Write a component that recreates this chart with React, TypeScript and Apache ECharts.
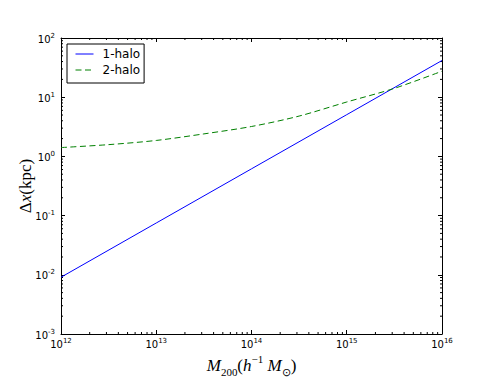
import React, { useEffect, useRef } from "react";
import * as echarts from "echarts";

// ---- data ----
const seriesNames = ["1-halo", "2-halo"];
const oneHaloMass = [1e12, 1e13, 1e14, 1e15, 1e16];
const oneHaloDx = [0.0091, 0.075, 0.617, 5.07, 41.7];
const twoHaloMass = [1e12, 3.16e12, 1e13, 3.16e13, 1e14, 3.16e14, 1e15, 3.16e15, 1e16];
const twoHaloDx = [1.41, 1.58, 1.86, 2.4, 3.2, 4.8, 8.3, 14.1, 27.5];
const xRange = [1e12, 1e16];
const yRange = [1e-3, 1e2];
const xDecades = [12, 13, 14, 15];
const yDecades = [-3, -2, -1, 0, 1];
const minorMultipliers = [2, 3, 4, 5, 6, 7, 8, 9];

const SANS = "DejaVu Sans";
const SERIF = "Liberation Serif";

function buildMinorTicks() {
  const items: number[][] = [];
  for (const d of xDecades) {
    for (const m of minorMultipliers) {
      const v = m * Math.pow(10, d);
      items.push([v, yRange[0], 0]);
      items.push([v, yRange[1], 1]);
    }
  }
  for (const d of yDecades) {
    for (const m of minorMultipliers) {
      const v = m * Math.pow(10, d);
      items.push([xRange[0], v, 2]);
      items.push([xRange[1], v, 3]);
    }
  }
  return items;
}

const tickRich = {
  b: { fontFamily: SANS, fontSize: 10, lineHeight: 12, verticalAlign: "bottom", color: "#000" },
  s: { fontFamily: SANS, fontSize: 7, lineHeight: 8, verticalAlign: "top", color: "#000" },
};

const nameRich = {
  i: { fontFamily: SERIF, fontStyle: "italic", fontSize: 17, lineHeight: 24, verticalAlign: "middle", color: "#000" },
  n: { fontFamily: SERIF, fontSize: 17, lineHeight: 24, verticalAlign: "middle", color: "#000" },
  sub: { fontFamily: SERIF, fontSize: 11, lineHeight: 12, verticalAlign: "bottom", color: "#000" },
  sup: { fontFamily: SERIF, fontSize: 11, lineHeight: 12, verticalAlign: "top", color: "#000" },
};

function expLabel(v: number) {
  const e = Math.round(Math.log10(v));
  return `{b|10}{s|${e}}`;
}

export default function App() {
  const ref = useRef<HTMLDivElement>(null);
  useEffect(() => {
    if (!ref.current) return;
    const chart = echarts.init(ref.current, null, { renderer: "svg" });
    const axisLine = { show: true, lineStyle: { color: "#000", width: 1 } };
    const majorTick = { show: true, inside: true, length: 4, lineStyle: { color: "#000", width: 1 } };
    chart.setOption({
      animation: false,
      backgroundColor: "#fff",
      grid: { left: 61, right: 49, top: 38, bottom: 38, containLabel: false },
      legend: {
        data: seriesNames,
        orient: "vertical",
        left: 67,
        top: 44,
        borderColor: "#000",
        borderWidth: 1,
        borderRadius: 0,
        padding: [4, 4, 7, 8],
        itemWidth: 18,
        itemHeight: 14,
        itemGap: 4,
        itemStyle: { opacity: 0, borderWidth: 0 },
        lineStyle: { width: 1 },
        textStyle: { fontFamily: SANS, fontSize: 12, color: "#000", padding: [0, 0, 0, 4] },
      },
      xAxis: [
        {
          type: "log",
          logBase: 10,
          min: xRange[0],
          max: xRange[1],
          position: "bottom",
          axisLine,
          axisTick: majorTick,
          splitLine: { show: false },
          axisLabel: { formatter: expLabel, rich: tickRich, margin: 3, color: "#000" },
          name: "{i|M}{sub|200}{n|(}{i|h}{sup|−1}{i| M}{sub|⊙}{n|)}",
          nameLocation: "middle",
          nameGap: 19,
          nameMoveOverlap: false,
          nameTextStyle: { rich: nameRich },
        },
        {
          type: "log",
          logBase: 10,
          min: xRange[0],
          max: xRange[1],
          position: "top",
          axisLine,
          axisTick: majorTick,
          splitLine: { show: false },
          axisLabel: { show: false },
        },
      ],
      yAxis: [
        {
          type: "log",
          logBase: 10,
          min: yRange[0],
          max: yRange[1],
          position: "left",
          axisLine,
          axisTick: majorTick,
          splitLine: { show: false },
          axisLabel: { formatter: expLabel, rich: tickRich, margin: 6, color: "#000" },
          name: "{n|Δ}{i|x}{n|(kpc)}",
          nameLocation: "middle",
          nameRotate: 90,
          nameGap: 24,
          nameMoveOverlap: false,
          nameTextStyle: { rich: nameRich },
        },
        {
          type: "log",
          logBase: 10,
          min: yRange[0],
          max: yRange[1],
          position: "right",
          axisLine,
          axisTick: majorTick,
          splitLine: { show: false },
          axisLabel: { show: false },
        },
      ],
      series: [
        {
          name: seriesNames[0],
          type: "line",
          data: oneHaloMass.map((m, i) => [m, oneHaloDx[i]]),
          showSymbol: false,
          symbol: "none",
          lineStyle: { color: "#0000ff", width: 1 },
          itemStyle: { color: "#0000ff" },
        },
        {
          name: seriesNames[1],
          type: "line",
          data: twoHaloMass.map((m, i) => [m, twoHaloDx[i]]),
          showSymbol: false,
          symbol: "none",
          smooth: 0.3,
          lineStyle: { color: "#008000", width: 1, type: [6, 3.5] },
          itemStyle: { color: "#008000" },
        },
        {
          name: "minorTicks",
          type: "custom",
          silent: true,
          clip: false,
          data: buildMinorTicks(),
          encode: { x: 0, y: 1 },
          renderItem: (params: any, api: any) => {
            const p = api.coord([api.value(0), api.value(1)]);
            const kind = api.value(2);
            const L = 2;
            let x2 = p[0];
            let y2 = p[1];
            if (kind === 0) y2 = p[1] - L;
            else if (kind === 1) y2 = p[1] + L;
            else if (kind === 2) x2 = p[0] + L;
            else x2 = p[0] - L;
            return {
              type: "line",
              shape: { x1: p[0], y1: p[1], x2, y2 },
              style: { stroke: "#000", lineWidth: 1 },
            };
          },
        },
      ],
    });
    return () => chart.dispose();
  }, []);
  return (
    <div
      ref={ref}
      style={{ position: "fixed", left: 0, top: 0, width: 491, height: 382, background: "#fff" }}
    />
  );
}
